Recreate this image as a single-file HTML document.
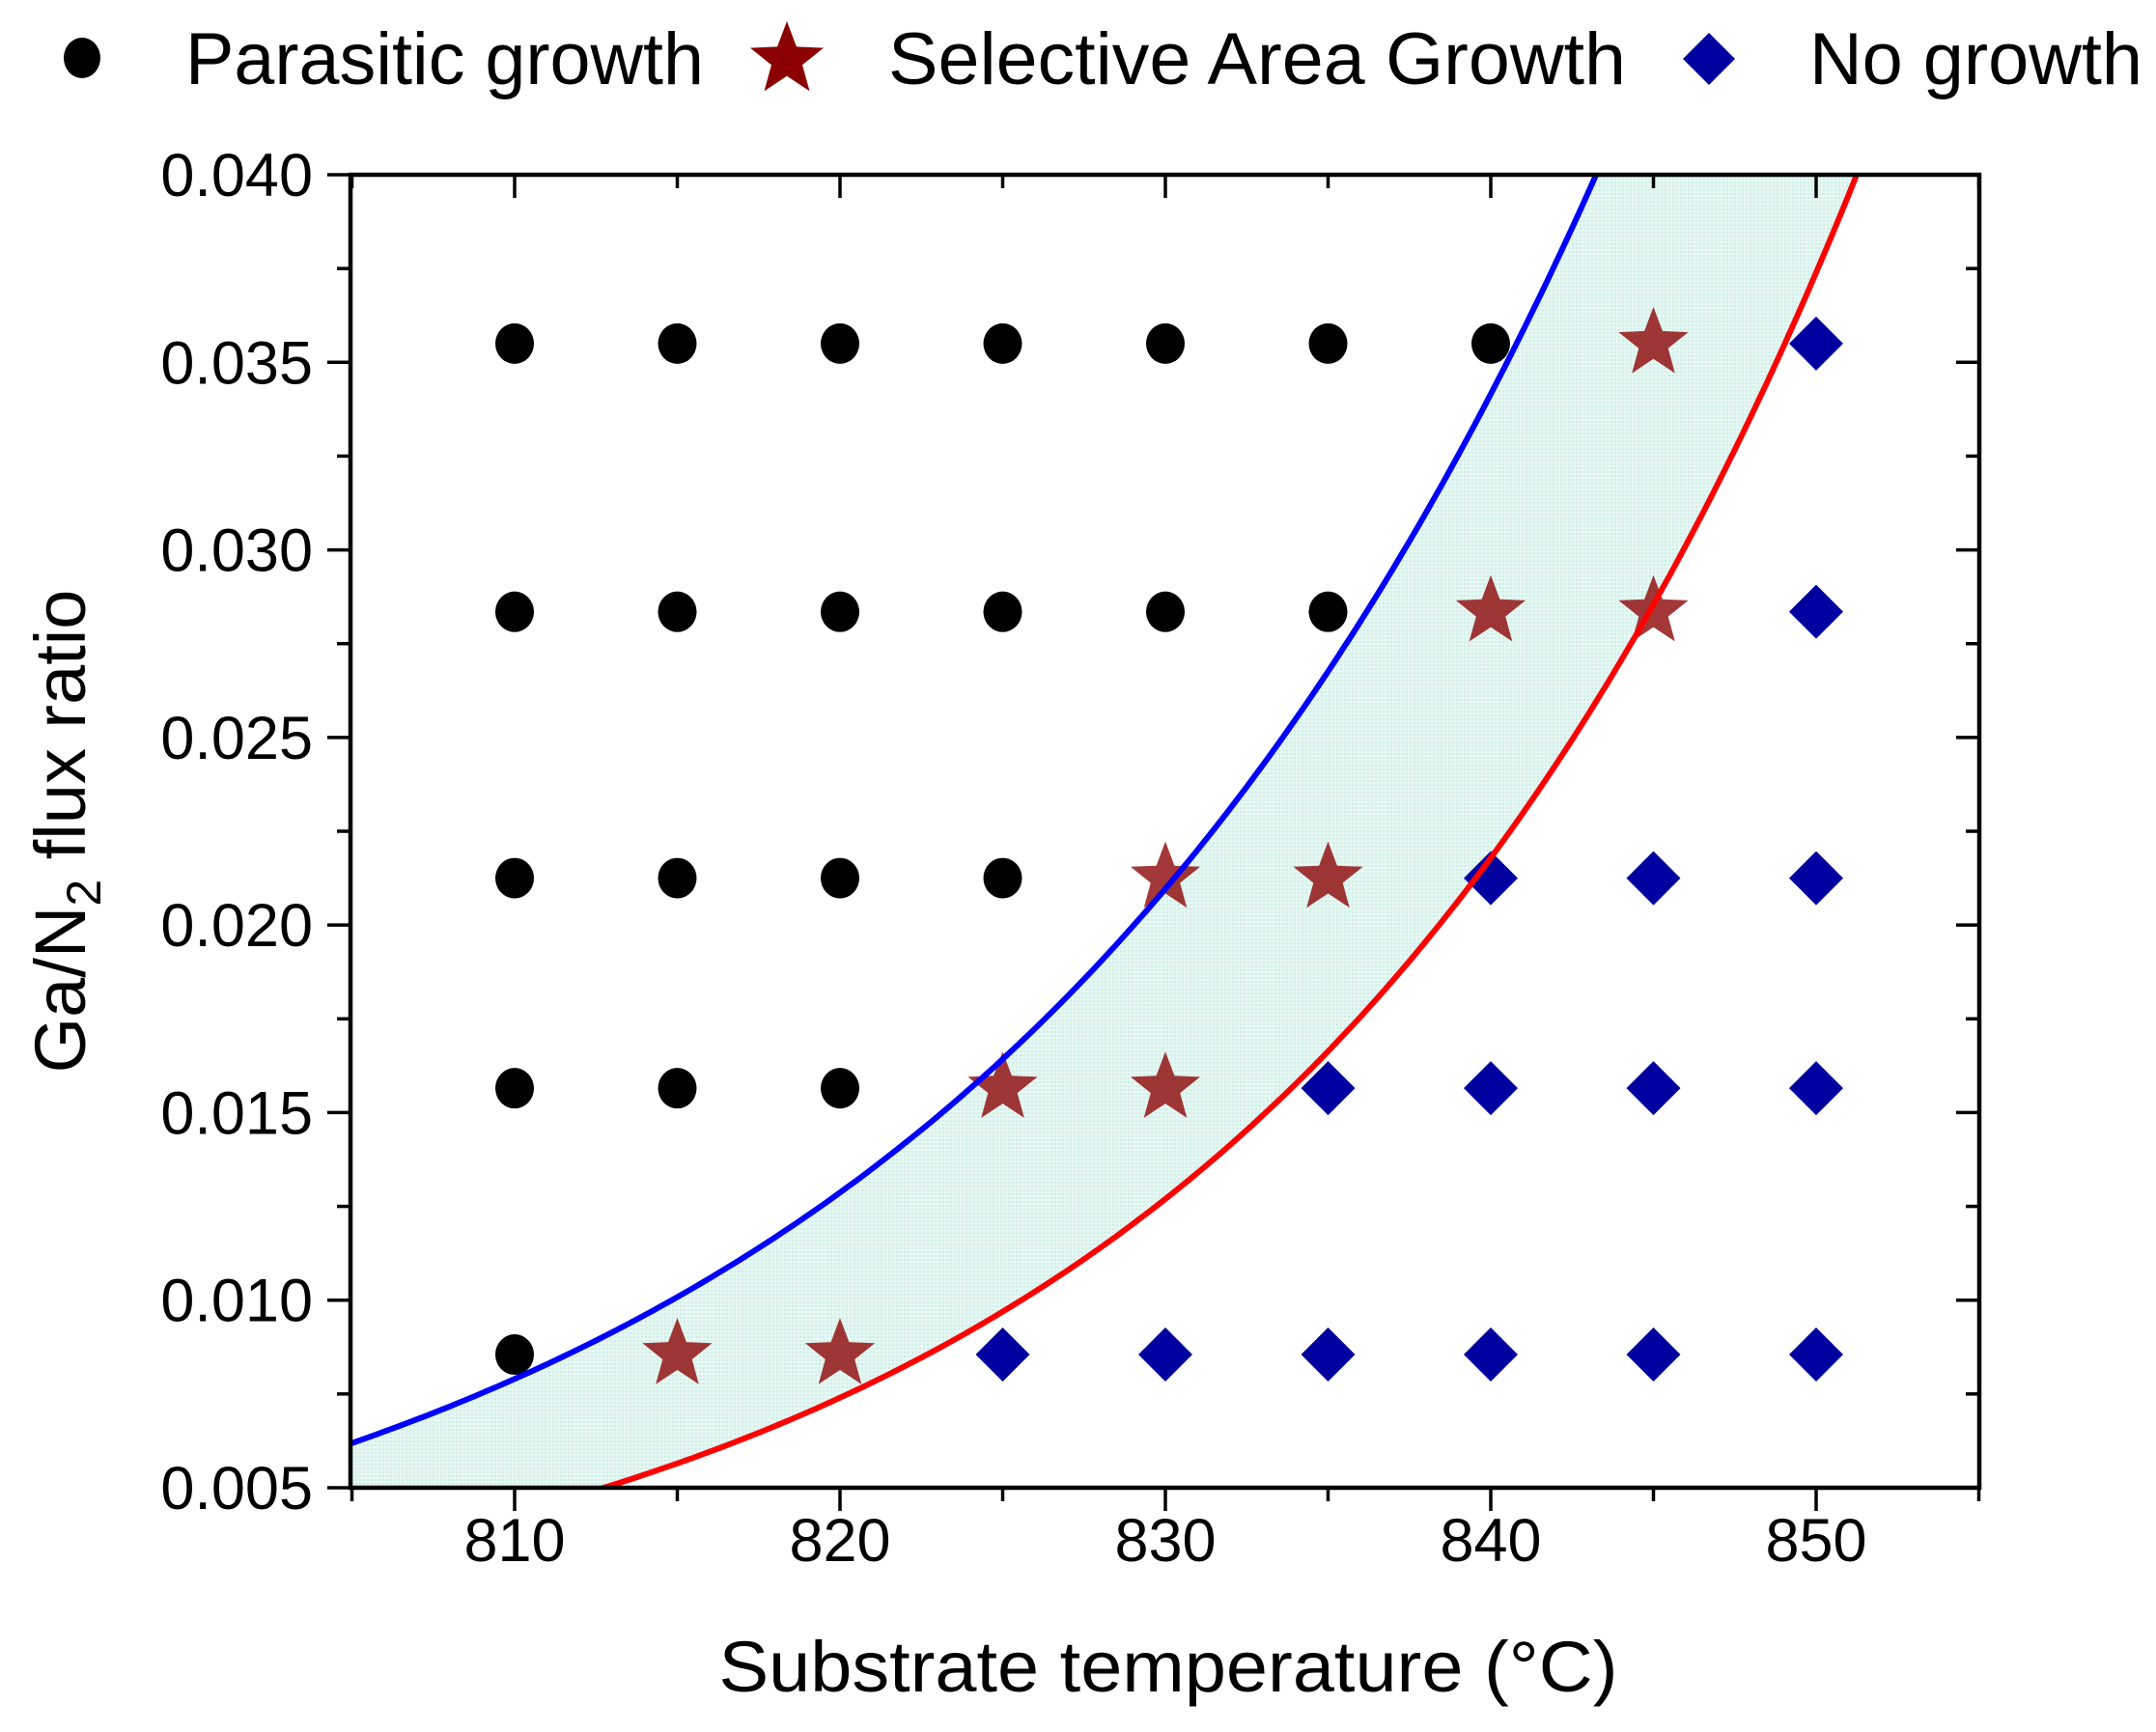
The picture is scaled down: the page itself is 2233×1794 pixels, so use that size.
<!DOCTYPE html>
<html><head><meta charset="utf-8"><style>html,body{margin:0;padding:0;background:#fff}svg{display:block}</style></head>
<body>
<svg id="s" width="2233" height="1794" viewBox="0 0 2233 1794" xmlns="http://www.w3.org/2000/svg" font-family="Liberation Sans, Arial, sans-serif">
<defs>
<pattern id="dots" width="4" height="4" patternUnits="userSpaceOnUse">
<rect width="4" height="4" fill="#e6f7f3"/>
<rect width="2" height="2" fill="#cdeee6"/>
</pattern>
<clipPath id="clip"><rect x="363" y="181" width="1687" height="1360"/></clipPath>
</defs>
<g id="plot"></g>
<ellipse cx="85" cy="60" rx="19" ry="21" fill="#000"/>
<text x="192" y="87" font-size="76" textLength="537" lengthAdjust="spacingAndGlyphs">Parasitic growth</text>
<g id="lstar"></g>
<text x="920" y="87" font-size="76" textLength="764" lengthAdjust="spacingAndGlyphs">Selective Area Growth</text>
<polygon points="1770,34 1797,61 1770,88 1743,61" fill="#0000a0"/>
<text x="1874" y="87" font-size="76" textLength="345" lengthAdjust="spacingAndGlyphs">No growth</text>
<text x="1210" y="1752" font-size="74" text-anchor="middle" textLength="931" lengthAdjust="spacingAndGlyphs">Substrate temperature (°C)</text>
<text transform="translate(88,861) rotate(-90)" font-size="74" text-anchor="middle">Ga/N<tspan font-size="50" dy="16">2</tspan><tspan dy="-16"> flux ratio</tspan></text>
</svg>
<script>
(function(){
var NS="http://www.w3.org/2000/svg";
var X0=363,X1=2050,Y0=1541,Y1=181;
function X(t){return 533+(t-810)*33.7;}
function Y(v){return Y0-(v-0.005)/0.035*(Y0-Y1);}
var g=document.getElementById('plot');
function el(n,a,p){var e=document.createElementNS(NS,n);for(var k in a)e.setAttribute(k,a[k]);(p||g).appendChild(e);return e;}
function blue(t){return 0.0079*Math.exp(0.0488*(t-810));}
function red(t){return 0.0074*Math.exp(0.0540*(t-820));}
var cg=el('g',{'clip-path':'url(#clip)'});
var upper=[],lower=[];
for(var t=805;t<=856;t+=0.25){upper.push(X(t).toFixed(1)+','+Y(blue(t)).toFixed(1));lower.push(X(t).toFixed(1)+','+Y(red(t)).toFixed(1));}
el('polygon',{points:upper.concat(lower.slice().reverse()).join(' '),fill:'url(#dots)'},cg);
var rows=[0.0355,0.02835,0.02125,0.01565,0.00855];
var T=[810,815,820,825,830,835,840,845,850];
var types=['cccccccsd','ccccccssd','ccccssddd','cccssdddd','cssdddddd'];
function star(cx,cy,R,p,fill,op){var pts=[];for(var i=0;i<10;i++){var r=i%2?R*0.42:R;var a=-Math.PI/2+i*Math.PI/5;pts.push((cx+r*Math.cos(a)).toFixed(1)+','+(cy+r*Math.sin(a)).toFixed(1));}el('polygon',{points:pts.join(' '),fill:fill,'fill-opacity':op},p);}
for(var r=0;r<5;r++){var s=types[r];for(var i=0;i<9;i++){var cx=X(T[i]),cy=Y(rows[r]),c=s[i];
 if(c=='c')el('ellipse',{cx:cx,cy:cy,rx:20,ry:21,fill:'#000'});
 else if(c=='s')star(cx,cy,38,g,'#8b0000',0.78);
 else el('polygon',{points:cx+','+(cy-28)+' '+(cx+28)+','+cy+' '+cx+','+(cy+28)+' '+(cx-28)+','+cy,fill:'#0000a0'});}}
var cg2=el('g',{'clip-path':'url(#clip)'});
el('polyline',{points:upper.join(' '),fill:'none',stroke:'#0000ff','stroke-width':6},cg2);
el('polyline',{points:lower.join(' '),fill:'none',stroke:'#ff0000','stroke-width':6},cg2);
el('rect',{x:X0,y:Y1,width:X1-X0,height:Y0-Y1,fill:'none',stroke:'#000','stroke-width':4.5});
for(var t=805;t<=855;t+=5){var x=X(t),maj=(t%10==0);var L=maj?24:14;
 el('line',{x1:x,y1:Y0,x2:x,y2:Y0+L,stroke:'#000','stroke-width':3.5});
 el('line',{x1:x,y1:Y1,x2:x,y2:Y1+L,stroke:'#000','stroke-width':3.5});
 if(maj){var tx=el('text',{x:x,y:Y0+76,'font-size':63,'text-anchor':'middle'});tx.textContent=t;}}
for(var k=0;k<=14;k++){var v=0.005+k*0.0025,y=Y(v),maj=(k%2==0);var L=maj?24:14;
 el('line',{x1:X0,y1:y,x2:X0-L,y2:y,stroke:'#000','stroke-width':3.5});
 el('line',{x1:X1,y1:y,x2:X1-L,y2:y,stroke:'#000','stroke-width':3.5});
 if(maj){var tx=el('text',{x:324,y:y+22,'font-size':63,'text-anchor':'end'});tx.textContent=v.toFixed(3);}}
star(815,62,40,document.getElementById('lstar'),'#8b0000',1);
})();
</script>
</body></html>
